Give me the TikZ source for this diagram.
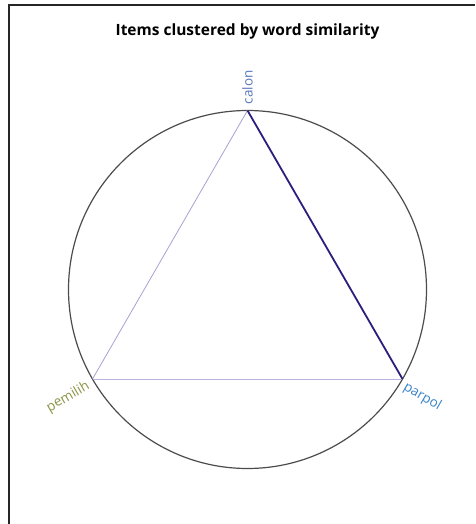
\documentclass[tikz,border=0pt]{standalone}
\usepackage{fontspec}
\setmainfont{Open Sans}
\definecolor{calonc}{HTML}{5A78BE}
\definecolor{parpolc}{HTML}{3A86C8}
\definecolor{pemilihc}{HTML}{8C9446}
\definecolor{strongedge}{HTML}{2B1F7E}
\definecolor{weakedge}{HTML}{A8A2D2}
\definecolor{weakedgeb}{HTML}{B8B3DA}
\begin{document}
\begin{tikzpicture}[x=1pt,y=-1pt,
  lbl/.style={font=\fontsize{13.5}{15}\selectfont, inner sep=1pt},
  vert/.style={circle, inner sep=0pt, minimum size=0pt}]
\useasboundingbox (0,0) rectangle (475,524);
\fill[white] (0,0) rectangle (475,524);
\draw[line width=1.2pt, black!85] (9,524) -- (9,5) -- (475,5);
\node[font=\bfseries\fontsize{15.5}{18}\selectfont] (title) at (247.5,31) {Items clustered by word similarity};
\coordinate (center) at (247.5,289.5);
\draw[line width=1.2pt, black!70] (center) circle [radius=179];
\node[vert] (calon) at (247.5,110.5) {};
\node[vert] (parpol) at (402.5,379) {};
\node[vert] (pemilih) at (92.5,379) {};
\draw[weakedge, line width=0.8pt] (calon) -- (pemilih);
\draw[weakedgeb, line width=0.9pt] (pemilih) -- (parpol);
\draw[strongedge, line width=1.8pt] (calon) -- (parpol);
\node[lbl, text=calonc, rotate=90, anchor=west] (calonlbl) at ([yshift=5pt]calon) {calon};
\node[lbl, text=parpolc, rotate=-30, anchor=west] (parpollbl) at ([xshift=1pt,yshift=-7pt]parpol) {parpol};
\node[lbl, text=pemilihc, rotate=30, anchor=east] (pemilihlbl) at ([xshift=-3pt,yshift=-6pt]pemilih) {pemilih};
\end{tikzpicture}
\end{document}
